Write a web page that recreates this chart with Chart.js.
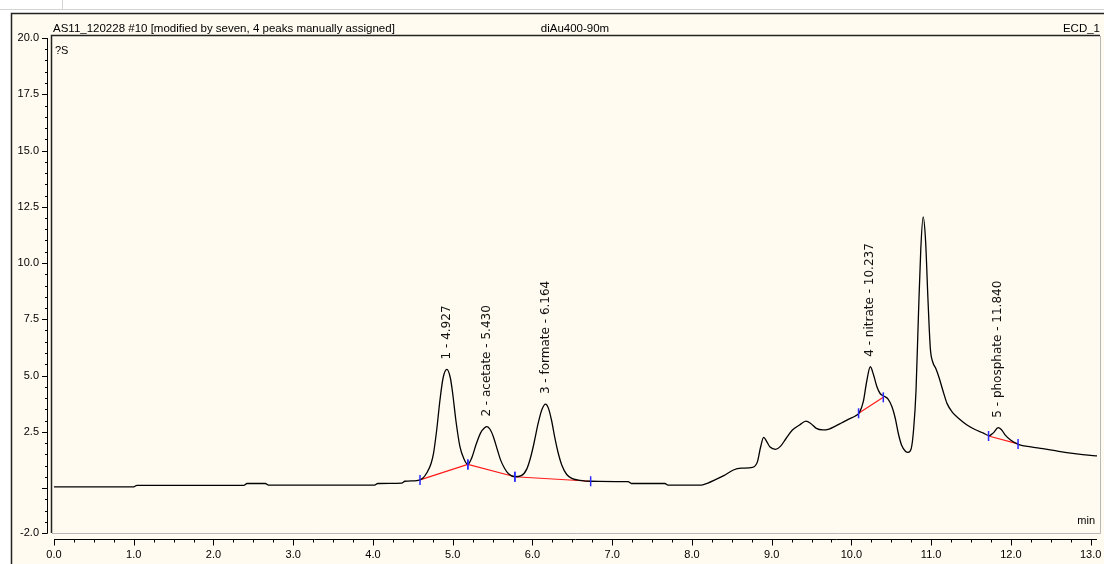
<!DOCTYPE html>
<html lang="en">
<head>
<meta charset="UTF-8">
<title>AS11_120228 #10 - ECD_1</title>
<script src="https://cdn.jsdelivr.net/npm/chart.js@4.4.1/dist/chart.umd.min.js"></script>
<style>
  html, body { margin: 0; padding: 0; background: #fff; }
  #wrap { width: 1104px; height: 564px; }
</style>
</head>
<body>
<div id="wrap"><canvas id="chrom" width="1104" height="564"></canvas></div>
<script>
// Chromatogram trace: retention time (min) / conductivity (µS)
const traceTime = [
  0.00, 1.00, 1.04, 2.38, 2.42, 2.65, 2.69, 4.02, 4.06, 4.36, 4.40, 4.55, 4.62, 4.68, 4.73, 4.76,
  4.80, 4.84, 4.88, 4.927, 4.97, 5.00, 5.04, 5.09, 5.14, 5.19, 5.24, 5.29, 5.35, 5.40, 5.43, 5.47,
  5.51, 5.56, 5.60, 5.65, 5.70, 5.78, 5.86, 5.93, 5.98, 6.02, 6.07, 6.12, 6.164, 6.20, 6.24, 6.28,
  6.32, 6.37, 6.43, 6.50, 6.60, 6.73, 7.20, 7.24, 7.66, 7.70, 8.12, 8.20, 8.30, 8.40, 8.52, 8.62,
  8.76, 8.82, 8.86, 8.90, 8.94, 8.98, 9.05, 9.11, 9.18, 9.26, 9.35, 9.43, 9.49, 9.56, 9.64, 9.72,
  9.80, 9.88, 9.96, 10.05, 10.10, 10.15, 10.19, 10.237, 10.28, 10.32, 10.36, 10.41, 10.46, 10.51, 10.55, 10.59,
  10.63, 10.68, 10.71, 10.75, 10.78, 10.81, 10.84, 10.87, 10.90, 10.93, 10.96, 10.99, 11.02, 11.06, 11.10, 11.15,
  11.20, 11.27, 11.35, 11.45, 11.55, 11.65, 11.73, 11.78, 11.84, 11.88, 11.93, 12.00, 12.10, 12.25, 12.40, 12.60,
  12.80, 13.00, 13.10
];
const traceSignal = [
  0.05, 0.05, 0.12, 0.12, 0.20, 0.20, 0.13, 0.13, 0.20, 0.22, 0.30, 0.33, 0.42, 0.70, 1.10, 1.55,
  2.60, 3.90, 4.90, 5.27, 4.90, 4.20, 3.00, 1.85, 1.30, 1.05, 1.35, 1.90, 2.45, 2.68, 2.73, 2.60,
  2.28, 1.70, 1.25, 0.88, 0.63, 0.50, 0.55, 0.85, 1.40, 2.00, 2.85, 3.50, 3.73, 3.55, 3.00, 2.25,
  1.60, 1.00, 0.60, 0.42, 0.34, 0.30, 0.28, 0.20, 0.20, 0.13, 0.13, 0.22, 0.38, 0.55, 0.80, 0.88,
  0.92, 1.15, 1.80, 2.25, 2.05, 1.82, 1.72, 1.85, 2.20, 2.58, 2.80, 2.97, 2.87, 2.65, 2.58, 2.62,
  2.75, 2.90, 3.05, 3.20, 3.35, 3.85, 4.70, 5.39, 5.00, 4.50, 4.20, 4.08, 3.95, 3.60, 3.10, 2.40,
  1.90, 1.62, 1.58, 1.75, 2.60, 4.30, 7.60, 10.60, 12.05, 11.00, 8.40, 6.20, 5.60, 5.30, 4.90, 4.30,
  3.75, 3.35, 3.08, 2.80, 2.60, 2.45, 2.33, 2.45, 2.68, 2.60, 2.35, 2.12, 1.93, 1.83, 1.75, 1.63,
  1.53, 1.45, 1.42
];

// integration baselines (start / end of each peak)
const blStartTime = [4.59, 5.19, 5.78, 10.09, 11.72];
const blStartSig  = [0.36, 1.05, 0.50, 3.32, 2.31];
const blEndTime   = [5.19, 5.78, 6.73, 10.40, 12.09];
const blEndSig    = [1.05, 0.50, 0.30, 4.03, 1.96];

// peak annotations
const peakTime   = [4.927, 5.430, 6.164, 10.237, 11.840];
const peakHeight = [5.27, 2.73, 3.73, 5.39, 2.68];
const peakLabel  = ['1 - 4.927', '2 - acetate - 5.430', '3 - formate - 6.164',
                    '4 - nitrate - 10.237', '5 - phosphate - 11.840'];

// axis ticks
const xTickValues = [0, 1, 2, 3, 4, 5, 6, 7, 8, 9, 10, 11, 12, 13];
const yTickValues = [-2, 0, 2.5, 5, 7.5, 10, 12.5, 15, 17.5, 20];

const headerLeft = 'AS11_120228 #10 [modified by seven, 4 peaks manually assigned]';
const headerMid = 'diAu400-90m';
const headerRight = 'ECD_1';

const CREAM = '#fffbf0';
const TXT_FONT = '"Liberation Sans", Arial, sans-serif';

// build datasets
const tracePts = traceTime.map((t, i) => ({ x: t, y: traceSignal[i] }));
const basePts = [];
blStartTime.forEach((t, i) => {
    basePts.push({ x: t, y: blStartSig[i] });
    basePts.push({ x: blEndTime[i], y: blEndSig[i] });
    basePts.push({ x: blEndTime[i], y: null });
});
const markPts = [];
blStartTime.forEach((t, i) => {
    markPts.push({ x: t, y: blStartSig[i] });
    markPts.push({ x: blEndTime[i], y: blEndSig[i] });
});

// background, frames and header texts
const framePlugin = {
    id: 'frame',
    beforeDraw(chart) {
        const ctx = chart.ctx, W = chart.width, H = chart.height;
        const a = chart.chartArea;
        ctx.save();
        ctx.fillStyle = '#ffffff';
        ctx.fillRect(0, 0, W, H);
        // window chrome above
        ctx.strokeStyle = '#d4d4d4';
        ctx.lineWidth = 1;
        ctx.beginPath();
        ctx.moveTo(0, 9.5); ctx.lineTo(W, 9.5);
        ctx.moveTo(62.5, 0); ctx.lineTo(62.5, 9.5);
        ctx.stroke();
        // outer panel
        ctx.fillStyle = CREAM;
        ctx.fillRect(11, 13, W - 11, H - 13);
        ctx.strokeStyle = '#222';
        ctx.lineWidth = 1.5;
        ctx.beginPath();
        ctx.moveTo(11.5, H); ctx.lineTo(11.5, 13.5); ctx.lineTo(W, 13.5);
        ctx.stroke();
        // plot box (sunken look)
        const L = a.left - 2, T = 36, R = 1100, B = a.bottom;
        ctx.strokeStyle = '#b8b8b8';
        ctx.lineWidth = 1;
        ctx.beginPath();
        ctx.moveTo(L, B + 0.5); ctx.lineTo(R + 0.5, B + 0.5); ctx.lineTo(R + 0.5, T);
        ctx.stroke();
        ctx.strokeStyle = '#222';
        ctx.lineWidth = 1.5;
        ctx.beginPath();
        ctx.moveTo(L - 0.5, B); ctx.lineTo(L - 0.5, T - 0.5); ctx.lineTo(R, T - 0.5);
        ctx.stroke();
        // header
        ctx.fillStyle = '#000';
        ctx.font = '11.5px ' + TXT_FONT;
        ctx.textBaseline = 'middle';
        ctx.textAlign = 'left';
        ctx.fillText(headerLeft, 53, 29);
        ctx.textAlign = 'center';
        ctx.fillText(headerMid, 575, 29);
        ctx.textAlign = 'right';
        ctx.fillText(headerRight, 1100, 29);
        ctx.restore();
    },
    afterDraw(chart) {
        const ctx = chart.ctx;
        const xs = chart.scales.x, ys = chart.scales.y;
        ctx.save();
        ctx.strokeStyle = '#000';
        ctx.lineWidth = 1;
        // y axis, drawn a little left of the plot box
        const ax = 47.5;
        const yTop = ys.getPixelForValue(ys.max), yBot = ys.getPixelForValue(ys.min);
        ctx.beginPath();
        ctx.moveTo(ax, yTop); ctx.lineTo(ax, yBot);
        for (let v = ys.min; v <= ys.max + 1e-9; v += 0.5) {
            const p = Math.round(ys.getPixelForValue(v)) + 0.5;
            ctx.moveTo(ax - 2.5, p); ctx.lineTo(ax, p);
        }
        ys.ticks.forEach(t => {
            const p = Math.round(ys.getPixelForValue(t.value)) + 0.5;
            ctx.moveTo(ax - 5.5, p); ctx.lineTo(ax, p);
        });
        // x axis, below the plot box
        const ay = 539.5;
        ctx.moveTo(xs.getPixelForValue(0), ay); ctx.lineTo(xs.right, ay);
        for (let v = 0; v <= xs.max + 1e-9; v += 0.25) {
            const p = Math.round(xs.getPixelForValue(v)) + 0.5;
            ctx.moveTo(p, ay); ctx.lineTo(p, ay + 3);
        }
        xs.ticks.forEach(t => {
            const p = Math.round(xs.getPixelForValue(t.value)) + 0.5;
            ctx.moveTo(p, ay); ctx.lineTo(p, ay + 6);
        });
        ctx.stroke();

        // unit texts inside the box
        ctx.fillStyle = '#000';
        ctx.font = '11px ' + TXT_FONT;
        ctx.textBaseline = 'middle';
        ctx.textAlign = 'left';
        ctx.fillText('?S', 55, 51);
        ctx.textAlign = 'right';
        ctx.fillText('min', 1095, 521);

        // peak labels, rotated
        ctx.font = '12px "DejaVu Sans", sans-serif';
        ctx.fillStyle = '#111';
        ctx.textAlign = 'left';
        ctx.textBaseline = 'middle';
        peakTime.forEach((t, i) => {
            const px = xs.getPixelForValue(t);
            const py = ys.getPixelForValue(peakHeight[i]) - 10;
            ctx.save();
            ctx.translate(px, py);
            ctx.rotate(-Math.PI / 2);
            ctx.fillText(peakLabel[i], 0, 0);
            ctx.restore();
        });
        ctx.restore();
    }
};

Chart.defaults.font.family = TXT_FONT;
Chart.defaults.color = '#000';

const chrom = new Chart(document.getElementById('chrom'), {
    type: 'line',
    data: {
        datasets: [
            {
                label: 'baseline',
                data: basePts,
                borderColor: '#ff1a1a',
                borderWidth: 1.2,
                pointRadius: 0,
                spanGaps: false,
                order: 2
            },
            {
                label: 'ECD_1',
                data: tracePts,
                borderColor: '#000000',
                borderWidth: 1.3,
                pointRadius: 0,
                cubicInterpolationMode: 'monotone',
                order: 1
            },
            {
                label: 'marks',
                data: markPts,
                showLine: false,
                pointStyle: 'line',
                rotation: 90,
                pointRadius: 5,
                borderColor: '#2a2aff',
                borderWidth: 1.5,
                order: 0
            }
        ]
    },
    options: {
        responsive: false,
        animation: false,
        events: [],
        layout: { padding: { left: 10, top: 38, right: 7, bottom: 0 } },
        plugins: {
            legend: { display: false },
            tooltip: { enabled: false }
        },
        scales: {
            x: {
                type: 'linear',
                min: 0,
                max: 13.08,
                afterBuildTicks: s => { s.ticks = xTickValues.map(v => ({ value: v })); },
                afterFit: s => { s.height = 31; s.paddingLeft = 0; s.paddingRight = 0; },
                ticks: {
                    callback: v => Number(v).toFixed(1),
                    font: { size: 11 },
                    padding: 15,
                    maxRotation: 0,
                    autoSkip: false
                },
                grid: { display: false, drawTicks: false },
                border: { display: false }
            },
            y: {
                type: 'linear',
                min: -2,
                max: 20,
                afterBuildTicks: s => { s.ticks = yTickValues.map(v => ({ value: v })); },
                afterFit: s => { s.width = 44; },
                ticks: {
                    callback: v => (v === 0 ? '' : Number(v).toFixed(1)),
                    font: { size: 11 },
                    padding: 15,
                    autoSkip: false
                },
                grid: { display: false, drawTicks: false },
                border: { display: false }
            }
        }
    },
    plugins: [framePlugin]
});
</script>
</body>
</html>
